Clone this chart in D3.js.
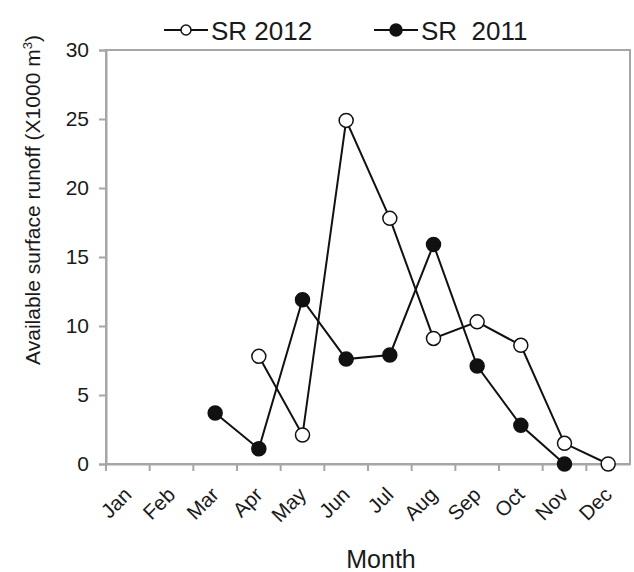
<!DOCTYPE html>
<html><head><meta charset="utf-8">
<script src="https://cdn.jsdelivr.net/npm/d3@7"></script>
<style>
body{margin:0;background:#fff;}
text{font-family:"Liberation Sans",Arial,sans-serif;fill:#1a1a1a;}
</style></head>
<body><svg id="c" width="634" height="572"></svg>
<script>
const months = ["Jan","Feb","Mar","Apr","May","Jun","Jul","Aug","Sep","Oct","Nov","Dec"];
const sr2012 = [null,null,null,7.8,2.1,24.9,17.8,9.1,10.3,8.6,1.5,0];
const sr2011 = [null,null,3.7,1.1,11.9,7.6,7.9,15.9,7.1,2.8,0,null];
const yTicks = [0,5,10,15,20,25,30];
const seriesNames = ["SR 2012","SR  2011"];

const svg = d3.select("#c");
const m = {l:106, r:4, t:50, b:108};
const W = 634, H = 572;
const x = d3.scaleBand().domain(months).range([m.l, W-m.r]).padding(0);
const y = d3.scaleLinear().domain([0,30]).range([H-m.b, m.t]);
const axisCol = "#a6a6a6";
const FONT = "Liberation Sans, Arial, sans-serif";

// frame
svg.append("rect").attr("x",m.l).attr("y",m.t).attr("width",W-m.r-m.l).attr("height",H-m.b-m.t)
  .attr("fill","none").attr("stroke",axisCol).attr("stroke-width",2);

// y axis
const ya = svg.append("g").attr("transform",`translate(${m.l},0)`)
  .call(d3.axisLeft(y).tickValues(yTicks).tickSize(7).tickPadding(10));
ya.select(".domain").attr("stroke",axisCol).attr("stroke-width",2);
ya.selectAll(".tick line").attr("stroke",axisCol).attr("stroke-width",2);
ya.selectAll(".tick text").attr("font-size",21).attr("fill","#1a1a1a").style("font-family",FONT);

// x axis
const xa = svg.append("g").attr("transform",`translate(0,${H-m.b})`)
  .call(d3.axisBottom(x).tickSize(7).tickSizeOuter(0));
xa.select(".domain").attr("stroke",axisCol).attr("stroke-width",2);
xa.selectAll(".tick line").attr("stroke",axisCol).attr("stroke-width",2)
  .attr("transform",`translate(${-x.bandwidth()/2},0)`);
xa.selectAll(".tick text").attr("font-size",20.5).attr("fill","#1a1a1a")
  .style("font-family",FONT)
  .attr("text-anchor","end").attr("y",0).attr("dy",0)
  .attr("transform","translate(5,32) rotate(-45)");

// axis titles
svg.append("text").attr("x",381).attr("y",568).attr("text-anchor","middle")
  .attr("font-size",25).text("Month");
const yt = svg.append("text").attr("transform",`translate(40,200) rotate(-90)`)
  .attr("text-anchor","middle").attr("font-size",21);
yt.append("tspan").text("Available surface runoff (X1000 m");
yt.append("tspan").attr("font-size",13).attr("dy",-8).text("3");
yt.append("tspan").attr("dy",8).text(")");

// series
const cx = d => x(d.m) + x.bandwidth()/2;
function drawSeries(vals, filled){
  const data = months.map((mm,i)=>({m:mm,v:vals[i]})).filter(d=>d.v!==null);
  svg.append("path").datum(data).attr("fill","none").attr("stroke","#111").attr("stroke-width",2)
    .attr("d", d3.line().x(cx).y(d=>y(d.v)));
  svg.selectAll(null).data(data).enter().append("circle")
    .attr("cx",cx).attr("cy",d=>y(d.v)).attr("r",7)
    .attr("fill",filled?"#111":"#fff").attr("stroke","#111").attr("stroke-width",1.5);
}
drawSeries(sr2011,true);
drawSeries(sr2012,false);

// legend
const leg = [{name:seriesNames[0],filled:false,x:164},{name:seriesNames[1],filled:true,x:374}];
leg.forEach(l=>{
  const g = svg.append("g").attr("transform",`translate(${l.x},30)`);
  g.append("line").attr("x1",0).attr("x2",44).attr("stroke","#111").attr("stroke-width",2);
  g.append("circle").attr("cx",22).attr("r",l.filled?6:5).attr("fill",l.filled?"#111":"#fff")
    .attr("stroke","#111").attr("stroke-width",1.5);
  g.append("text").attr("x",47).attr("y",10).attr("font-size",26).style("white-space","pre").text(l.name);
});
</script></body></html>
